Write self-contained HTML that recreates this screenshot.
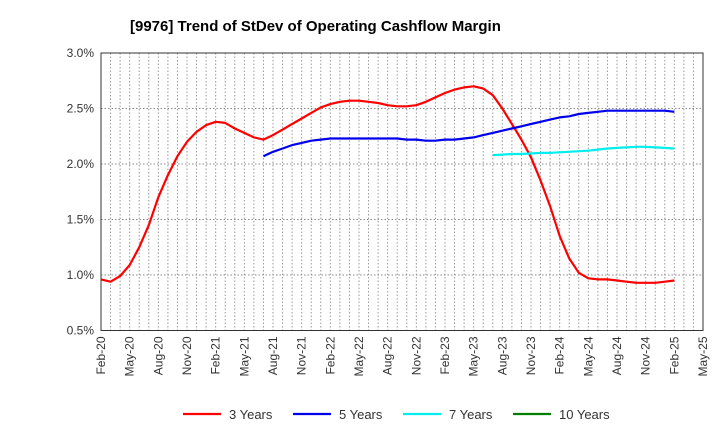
<!DOCTYPE html>
<html><head><meta charset="utf-8"><style>
body{margin:0;background:#fff;font-family:"Liberation Sans",sans-serif;}
svg text{font-family:"Liberation Sans",sans-serif;}
</style></head><body>
<svg id="chart" width="720" height="440" xmlns="http://www.w3.org/2000/svg">
<text x="130" y="31" font-size="15" font-weight="bold" fill="#000">[9976]  Trend of StDev of Operating Cashflow Margin</text>
<g id="grid"></g><g id="axes"></g><g id="series"></g><g id="legend"></g>
</svg>
<script>
const xLabels=["Feb-20","May-20","Aug-20","Nov-20","Feb-21","May-21","Aug-21","Nov-21","Feb-22","May-22","Aug-22","Nov-22","Feb-23","May-23","Aug-23","Nov-23","Feb-24","May-24","Aug-24","Nov-24","Feb-25","May-25"];
const yTicks=[0.5,1.0,1.5,2.0,2.5,3.0];
const s3Start=0;
const s3=[0.96,0.94,0.99,1.09,1.25,1.45,1.70,1.90,2.07,2.20,2.29,2.35,2.38,2.37,2.32,2.28,2.24,2.22,2.26,2.31,2.36,2.41,2.46,2.51,2.54,2.56,2.57,2.57,2.56,2.55,2.53,2.52,2.52,2.53,2.56,2.60,2.64,2.67,2.69,2.70,2.68,2.62,2.50,2.36,2.22,2.06,1.85,1.62,1.35,1.15,1.02,0.97,0.96,0.96,0.95,0.94,0.93,0.93,0.93,0.94,0.95];
const s5Start=17;
const s5=[2.07,2.11,2.14,2.17,2.19,2.21,2.22,2.23,2.23,2.23,2.23,2.23,2.23,2.23,2.23,2.22,2.22,2.21,2.21,2.22,2.22,2.23,2.24,2.26,2.28,2.30,2.32,2.34,2.36,2.38,2.40,2.42,2.43,2.45,2.46,2.47,2.48,2.48,2.48,2.48,2.48,2.48,2.48,2.47];
const s7Start=41;
const s7=[2.08,2.085,2.09,2.09,2.095,2.10,2.10,2.105,2.11,2.115,2.12,2.13,2.14,2.145,2.15,2.155,2.155,2.15,2.145,2.14];
const s10=[];
const L=101,R=703,T=53,B=330.5,NM=63;
const xs=i=>L+(R-L)*i/NM;
const ys=v=>T+(3.0-v)/2.5*(B-T);
const NS="http://www.w3.org/2000/svg";
function mk(tag,attrs,parent){const e=document.createElementNS(NS,tag);for(const k in attrs)e.setAttribute(k,attrs[k]);parent.appendChild(e);return e;}
const grid=document.getElementById('grid'),axes=document.getElementById('axes'),ser=document.getElementById('series'),leg=document.getElementById('legend');
for(let i=1;i<NM;i++){const l=mk('line',{x1:xs(i),x2:xs(i),y1:T,y2:B,stroke:'#999','stroke-dasharray':'1.5,2','stroke-width':1},grid);

}
yTicks.forEach(v=>{const l=mk('line',{x1:L,x2:R,y1:ys(v),y2:ys(v),stroke:'#888','stroke-dasharray':'1.5,2','stroke-width':1},grid);


const t=mk('text',{x:L-7,y:ys(v)+4,'font-size':12,'text-anchor':'end',fill:'#333'},axes);t.textContent=v.toFixed(1)+'%';

});
const fr=mk('rect',{x:L,y:T,width:R-L,height:B-T,fill:'none',stroke:'#333','stroke-width':1},axes);


xLabels.forEach((s,q)=>{const x=xs(q*3);const t=mk('text',{x:x+4,y:B+6,'font-size':12,'text-anchor':'end',fill:'#333',transform:`rotate(-90 ${x+4} ${B+6})`},axes);t.textContent=s;

});
function line(arr,start,color,name){if(!arr.length)return;const d=arr.map((v,i)=>(i?'L':'M')+xs(start+i).toFixed(1)+','+ys(v).toFixed(1)).join('');
const p=mk('path',{d:d,fill:'none',stroke:color,'stroke-width':2.2,'stroke-linejoin':'round'},ser);

}
line(s3,s3Start,'#ff0000','series-3-years');
line(s5,s5Start,'#0000ee','series-5-years');
line(s7,s7Start,'#00eeee','series-7-years');
line(s10,0,'#008000','series-10-years');
[['3 Years','#ff0000',183],['5 Years','#0000ee',293],['7 Years','#00eeee',403],['10 Years','#008000',513]].forEach(([n,c,x])=>{
const g=mk('g',{},leg);


mk('line',{x1:x,x2:x+38,y1:414,y2:414,stroke:c,'stroke-width':2.2},g);
const t=mk('text',{x:x+46,y:419,'font-size':13,fill:'#333'},g);t.textContent=n;});
</script>
</body></html>
